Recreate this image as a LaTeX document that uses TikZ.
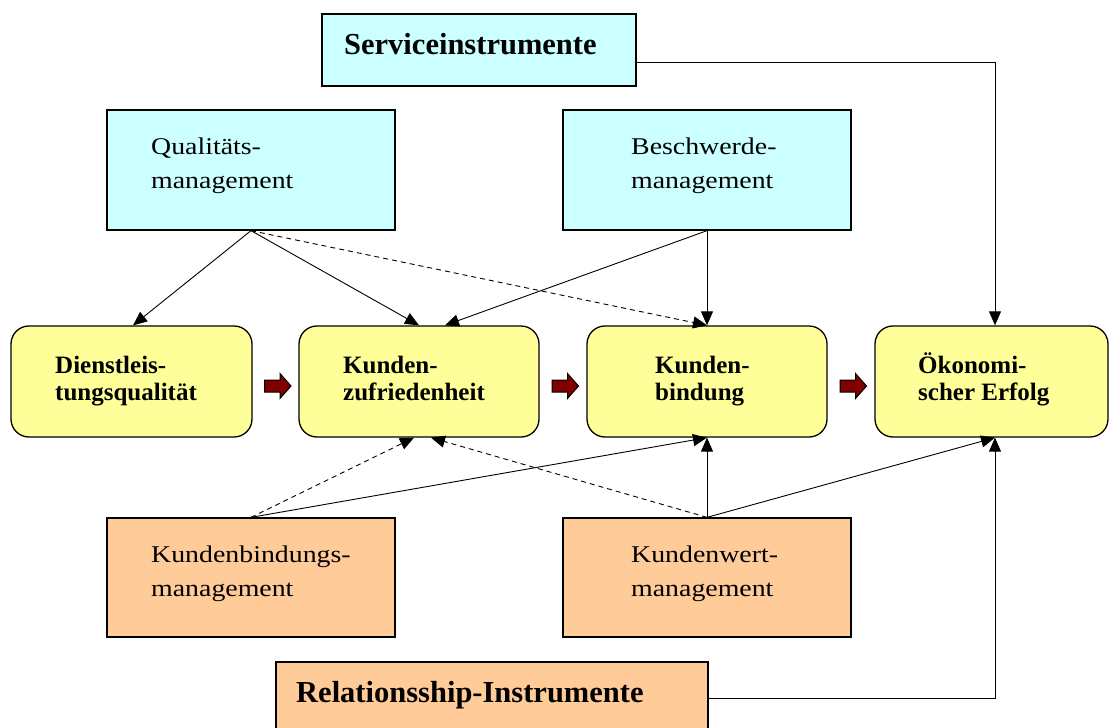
\documentclass[tikz,border=0pt]{standalone}
\usepackage{fontspec}
\setmainfont{Liberation Serif}
\newfontfamily\widefont[FakeStretch=1.16]{Liberation Serif}
\usetikzlibrary{arrows.meta,calc}
\definecolor{cyanfill}{HTML}{CCFFFF}
\definecolor{yellowfill}{HTML}{FFFF99}
\definecolor{orangefill}{HTML}{FFCC99}
\definecolor{darkred}{HTML}{800000}
\tikzset{
  boxbase/.style={draw, line width=1.3pt, inner sep=0pt},
  cbox/.style={boxbase, fill=cyanfill},
  obox/.style={boxbase, fill=orangefill},
  ybox/.style={boxbase, fill=yellowfill, rounded corners=18pt, minimum width=240pt, minimum height=111pt},
  regtext/.style={font=\widefont\fontsize{24}{34}\selectfont, align=left, inner sep=0pt, anchor=base west},
  boldtext/.style={font=\bfseries\fontsize{25}{26.5}\selectfont, align=left, inner sep=0pt, anchor=base west},
  bigtext/.style={font=\bfseries\fontsize{30.5}{32}\selectfont, inner sep=0pt, anchor=base west},
  conn/.style={-{Triangle[length=14pt,width=12pt]}, line width=0.9pt},
  dconn/.style={conn, dash pattern=on 5pt off 4pt},
  blockarrow/.style={draw, line width=1pt, fill=darkred, line join=miter}
}
\begin{document}
\begin{tikzpicture}[x=1pt,y=-1pt]
\useasboundingbox (0,0) rectangle (1109,728);
\clip (0,0) rectangle (1109,728);
% boxes
\node[cbox, minimum width=314pt, minimum height=72pt] (svc) at (479,50) {};
\node[cbox, minimum width=288pt, minimum height=120pt] (qm) at (251,170) {};
\node[cbox, minimum width=288pt, minimum height=120pt] (bm) at (707,170) {};
\node[ybox, minimum width=241pt] (dq) at (131.5,381.5) {};
\node[ybox] (kz) at (419,381.5) {};
\node[ybox] (kb) at (707,381.5) {};
\node[ybox, minimum width=233pt] (oe) at (991.5,381.5) {};
\node[obox, minimum width=288pt, minimum height=119pt] (kbm) at (251,577.5) {};
\node[obox, minimum width=288pt, minimum height=119pt] (kwm) at (707,577.5) {};
\node[obox, minimum width=432pt, minimum height=72pt] (rel) at (492,698) {};
% texts (base anchor = baseline of the last line)
\node[bigtext] (tsvc) at (344,54) {Serviceinstrumente};
\node[regtext] (tqm) at (151,188) {Qualitäts-\\management};
\node[regtext] (tbm) at (631,188) {Beschwerde-\\management};
\node[boldtext] (tdq) at (55,400) {Dienstleis-\\tungsqualität};
\node[boldtext] (tkz) at (343,400) {Kunden-\\zufriedenheit};
\node[boldtext] (tkb) at (655,400) {Kunden-\\bindung};
\node[boldtext] (toe) at (918,400) {Ökonomi-\\scher Erfolg};
\node[regtext] (tkbm) at (151,596) {Kundenbindungs-\\management};
\node[regtext] (tkwm) at (631,596) {Kundenwert-\\management};
\node[bigtext] (trel) at (296,702) {Relationsship-Instrumente};
% block arrows
\coordinate (ba1) at (277.5,386);
\coordinate (ba2) at (565,386);
\coordinate (ba3) at (853,386);
\foreach \c in {ba1,ba2,ba3}{
  \draw[blockarrow] ($(\c)+(-13,-6)$) -- ($(\c)+(2.5,-6)$) -- ($(\c)+(2.5,-12.5)$) -- ($(\c)+(13.5,0)$)
    -- ($(\c)+(2.5,12.5)$) -- ($(\c)+(2.5,6)$) -- ($(\c)+(-13,6)$) -- cycle;
}
% connectors from above
\draw[conn] (qm.south) -- ($(dq.north)+(1.5,0)$);
\draw[conn] (qm.south) -- (kz.north);
\draw[dconn] (qm.south) -- (kb.north);
\draw[conn] (bm.south) -- ($(kz.north)+(26,0)$);
\draw[conn] (bm.south) -- (kb.north);
\coordinate (svcout) at ($(svc.east)+(0,12)$);
\draw[conn] (svcout) -| ($(oe.north)+(3.5,0)$);
% connectors from below
\draw[dconn] (kbm.north) -- ($(kz.south)+(-5,0)$);
\draw[conn] (kbm.north) -- (kb.south);
\draw[dconn] (kwm.north) -- ($(kz.south)+(12,0)$);
\draw[conn] (kwm.north) -- (kb.south);
\draw[conn] (kwm.north) -- ($(oe.south)+(3.5,0)$);
\draw[conn] (rel.east) -| ($(oe.south)+(3.5,0)$);
\end{tikzpicture}
\end{document}
